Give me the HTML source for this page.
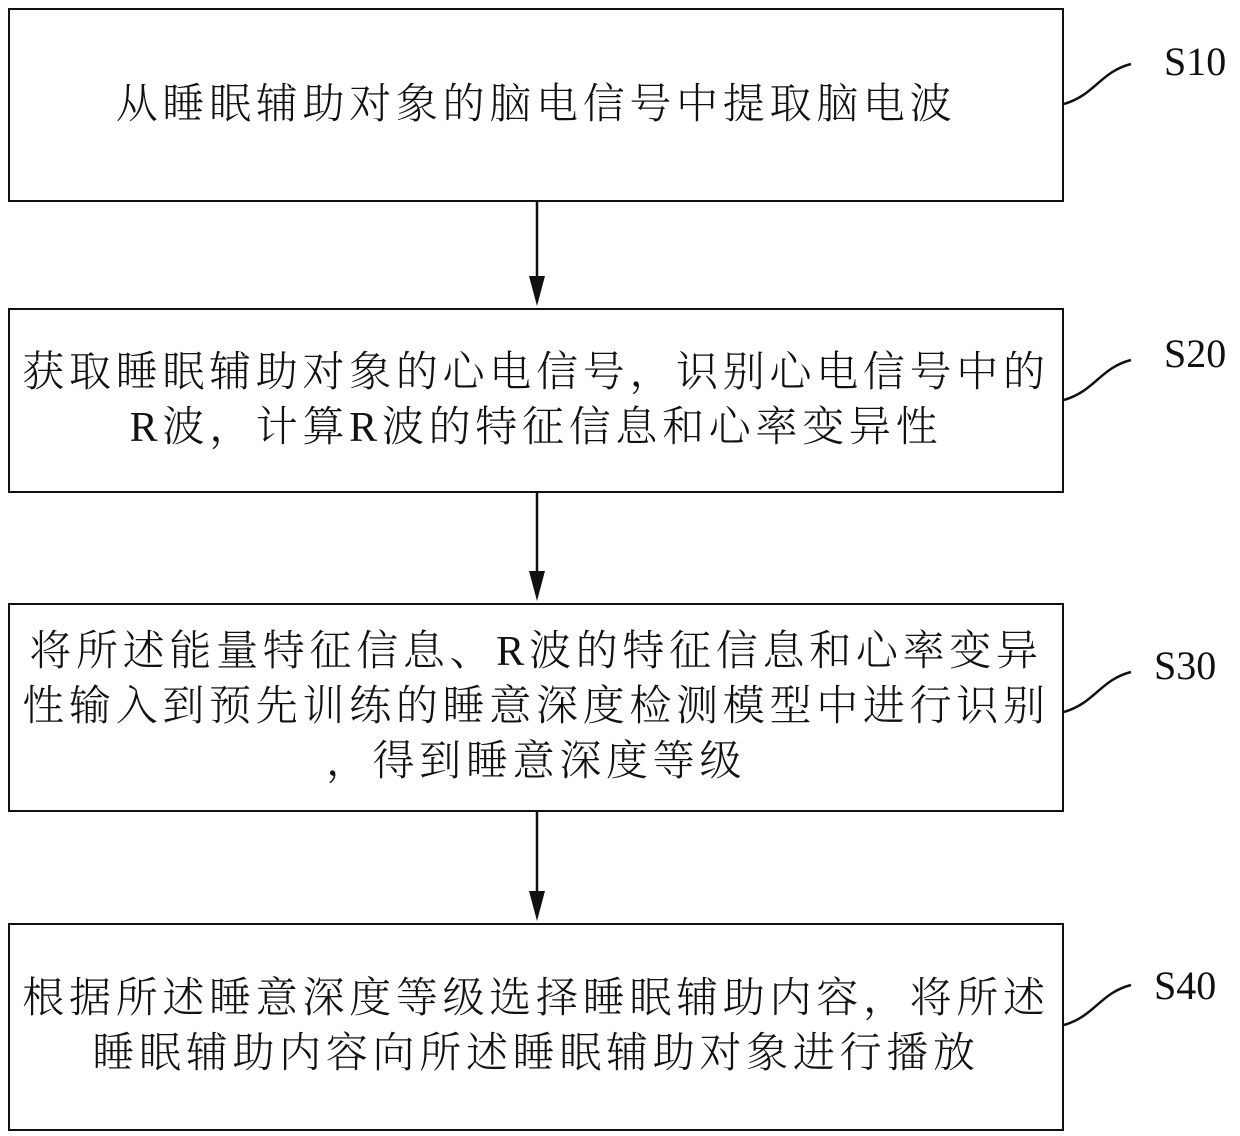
<!DOCTYPE html>
<html><head><meta charset="utf-8"><style>
body{margin:0;width:1240px;height:1136px;background:#fff;position:relative;overflow:hidden}
.box{position:absolute;border:2.5px solid #111;box-sizing:border-box;display:flex;align-items:center;justify-content:center;text-align:center}
.t{font-family:"Liberation Serif","Noto Serif CJK SC",serif;font-weight:300;font-size:42px;letter-spacing:4.7px;line-height:55px;color:#111;white-space:nowrap}
.lab{position:absolute;font-family:"Liberation Serif",serif;font-size:40px;color:#111}
svg{position:absolute;left:0;top:0}
</style></head><body>
<div class="box" style="left:8px;top:8px;width:1056px;height:194px"><div class="t">从睡眠辅助对象的脑电信号中提取脑电波</div></div>
<div class="box" style="left:8px;top:308px;width:1056px;height:185px"><div class="t">获取睡眠辅助对象的心电信号，识别心电信号中的<br>R波，计算R波的特征信息和心率变异性</div></div>
<div class="box" style="left:8px;top:603px;width:1056px;height:209px"><div class="t">将所述能量特征信息、R波的特征信息和心率变异<br>性输入到预先训练的睡意深度检测模型中进行识别<br>，得到睡意深度等级</div></div>
<div class="box" style="left:8px;top:923px;width:1056px;height:208px"><div class="t">根据所述睡意深度等级选择睡眠辅助内容，将所述<br>睡眠辅助内容向所述睡眠辅助对象进行播放</div></div>
<div class="lab" style="left:1164px;top:38px">S10</div>
<div class="lab" style="left:1164px;top:330px">S20</div>
<div class="lab" style="left:1154px;top:642px">S30</div>
<div class="lab" style="left:1154px;top:962px">S40</div>
<svg width="1240" height="1136">
<g fill="none" stroke="#111" stroke-width="2.5">
<path d="M1064 104 C1095 95,1100 72,1131 64"/>
<path d="M1064 400 C1095 391,1100 368,1131 360"/>
<path d="M1064 712 C1095 703,1100 680,1131 672"/>
<path d="M1064 1025 C1095 1016,1100 993,1131 985"/>
<path d="M537 202 V280 M537 493 V575 M537 812 V895"/>
</g>
<g fill="#111">
<path d="M529 276 L545 276 L537 306 Z"/>
<path d="M529 571 L545 571 L537 601 Z"/>
<path d="M529 891 L545 891 L537 921 Z"/>
</g>
</svg>
</body></html>
